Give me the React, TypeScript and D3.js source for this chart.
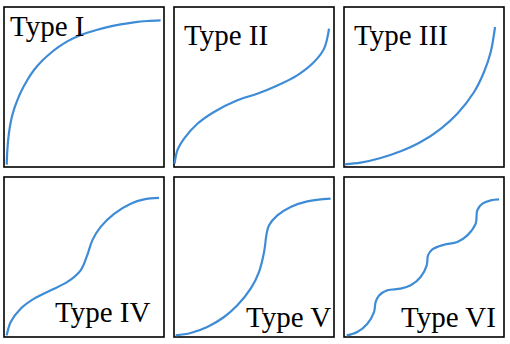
import React from 'react';
import * as d3 from 'd3';

// isotherm shapes, x and y in % of the panel box
const typeNames = ['Type I', 'Type II', 'Type III', 'Type IV', 'Type V', 'Type VI'];

const typeI: [number, number][] = [
  [1.7, 1.5], [2.1, 10.8], [3.1, 21.3], [4.6, 30], [6.25, 36], [8.3, 41.6],
  [10.4, 46.6], [14.6, 54.4], [18.75, 60.6], [24, 66.5], [29.2, 71.25], [34.4, 75.2],
  [39.6, 78.5], [45.8, 81.5], [52, 83.9], [58.3, 85.8], [64.6, 87.4], [72.9, 89.1],
  [81.25, 90.4], [89.6, 91.25], [97.9, 91.7],
];
const typeII: [number, number][] = [
  [0.4, 2.1], [2.1, 10.4], [6.3, 17.7], [14.6, 27], [25, 34.4], [39.6, 41.7],
  [52, 45.8], [64.6, 51], [77, 57.3], [87.5, 65.6], [93.8, 74], [96.9, 86.5],
];
const typeIII: [number, number][] = [
  [0.4, 1.7], [10.4, 2.7], [22.9, 5.6], [35.4, 9.8], [47.9, 15.6], [60.4, 23.9],
  [70.8, 33.3], [81.3, 46.9], [87.5, 59.4], [91.7, 71.9], [94.4, 87.5],
];
const typeIV: [number, number][] = [
  [1.7, 1], [4.2, 9.4], [10.4, 17.7], [18.8, 24], [29.2, 29.2], [39.6, 34.4],
  [47.9, 41.7], [52, 51], [55.2, 60.4], [60.4, 68.8], [68.8, 77], [79.2, 83.3],
  [87.5, 86], [96.9, 86.9],
];
const typeV: [number, number][] = [
  [1, 1], [10.4, 2.5], [20.8, 6.25], [31.3, 12.5], [39.6, 19.8], [47.9, 30.2],
  [53.1, 40.6], [56.3, 53.1], [57.9, 64.6], [59.4, 69.8], [64.6, 76], [72.9, 81.3],
  [83.3, 84.8], [97.9, 86.5],
];
const typeVI: [number, number][] = [
  [1.7, 1], [8.3, 3.1], [14.6, 8.3], [18.75, 15.6], [19.8, 21.9], [21.9, 26],
  [27.1, 29.2], [35.4, 30.2], [41.7, 32.3], [47.9, 37.5], [51.7, 44.8], [52.5, 51],
  [55.2, 54.8], [62.5, 57.7], [70.8, 59.4], [77.1, 63.5], [82.3, 70.8], [83.3, 79.2],
  [86.5, 83.3], [91.7, 85.4], [96.9, 86],
];

const curves = [typeI, typeII, typeIII, typeIV, typeV, typeVI];

const size = 160;
const gap = 10;
const left = 4;
const top = 7;
// label anchor inside each panel
const labelPos = [[6, 29], [10, 38], [10, 38], [51, 145], [72, 150], [57, 150]];

const xScale = d3.scaleLinear().domain([0, 100]).range([0, size]);
const yScale = d3.scaleLinear().domain([0, 100]).range([size, 0]);
const line = d3.line<[number, number]>()
  .x(d => xScale(d[0]))
  .y(d => yScale(d[1]))
  .curve(d3.curveCatmullRom.alpha(0.5));

const Panel = ({ i }: { i: number }) => {
  const col = i % 3;
  const row = Math.floor(i / 3);
  const tx = left + col * (size + gap);
  const ty = top + row * (size + gap);
  return (
    <g transform={`translate(${tx},${ty})`}>
      <rect width={size} height={size} fill="white" stroke="black" strokeWidth={1.6} />
      <path d={line(curves[i]) || ''} fill="none" stroke="#3f8cd6" strokeWidth={2.2} />
      <text x={labelPos[i][0]} y={labelPos[i][1]} fontFamily="'Liberation Serif', 'Times New Roman', serif"
        fontSize={29} fill="black">{typeNames[i]}</text>
    </g>
  );
};

export default function App() {
  return (
    <svg width={510} height={344} style={{ position: 'absolute', left: 0, top: 0 }}>
      <rect width={510} height={344} fill="white" />
      {typeNames.map((_, i) => <Panel key={i} i={i} />)}
    </svg>
  );
}
